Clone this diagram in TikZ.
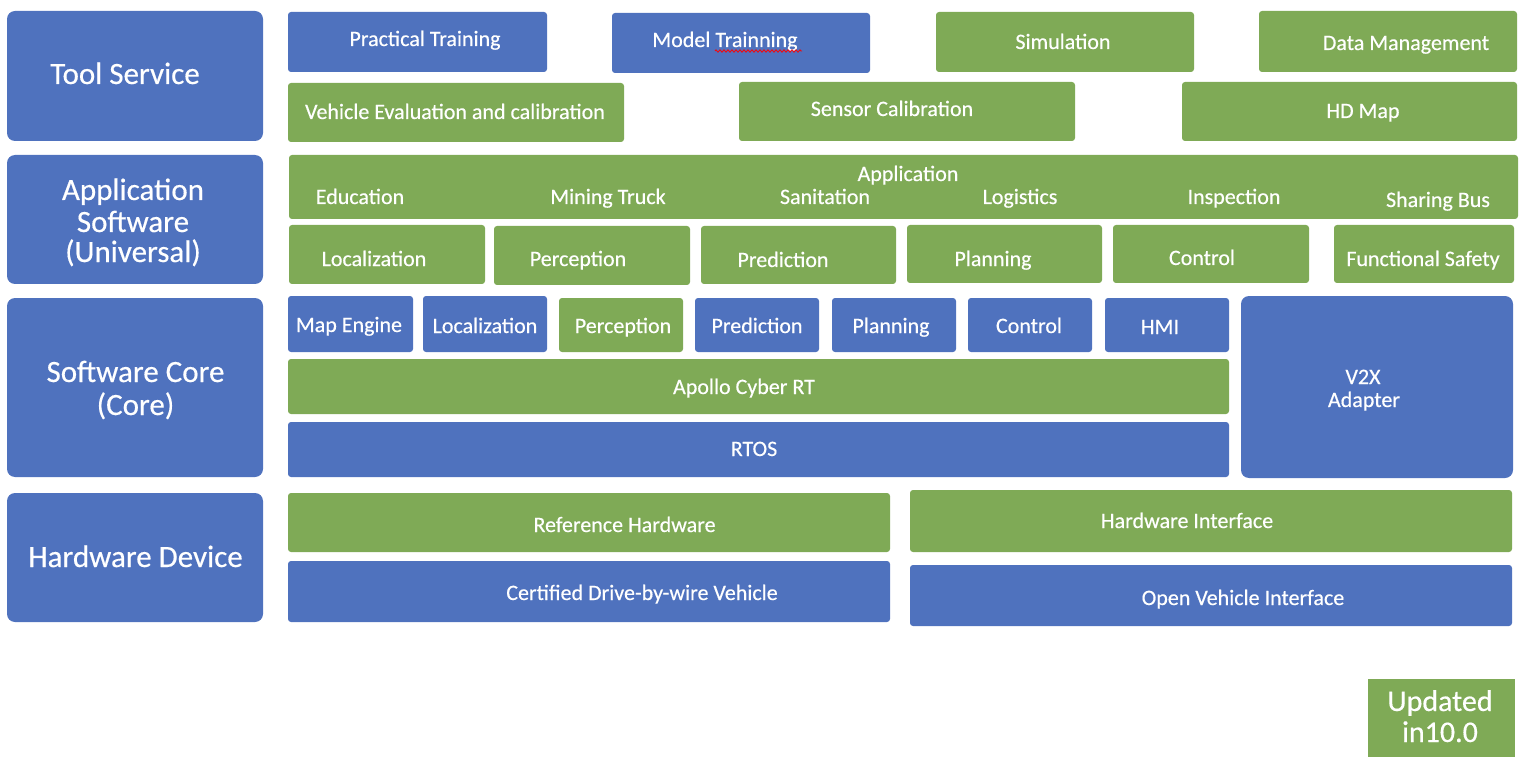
\documentclass[tikz,border=0pt]{standalone}
\usepackage{fontspec}
\setmainfont{Carlito}[FakeBold=0.4]
\usetikzlibrary{decorations.pathmorphing}
\definecolor{cblue}{RGB}{79,114,190}
\definecolor{cgreen}{RGB}{127,170,86}
\tikzset{
  blk/.style={draw=none, inner sep=0pt, outer sep=0pt, anchor=north west, rounded corners=3pt},
  bluebox/.style={blk, fill=cblue},
  greenbox/.style={blk, fill=cgreen},
  bigbox/.style={rounded corners=8pt},
  lbl/.style={text=white, inner sep=0pt, anchor=base, font=\fontsize{22}{26}\selectfont},
  biglbl/.style={lbl, font=\fontsize{31}{36}\selectfont},
  updlbl/.style={lbl, font=\fontsize{30}{34}\selectfont},
  squiggle/.style={draw=red, line width=0.8pt, decorate, decoration={zigzag, segment length=4pt, amplitude=1.2pt}},
}
\newcommand\bx[6]{\node[#2, minimum width={(#5-#3)*1pt}, minimum height={(#6-#4)*1pt}] (#1) at (#3,#4) {};}
\begin{document}
\begin{tikzpicture}[x=1pt,y=-1pt]
\useasboundingbox (0,0) rectangle (1524,762);
% ---------- Tool Service row
\bx{ts}{bluebox,bigbox}{7}{11}{263}{141}
\node[biglbl] (tst) at (125,84) {Tool Service};
\bx{pt}{bluebox}{288}{12}{547}{72}
\node[lbl] (ptt) at (425,46) {Practical Training};
\bx{mt}{bluebox}{612}{13}{870}{73}
\node[lbl] (mtt) at (725,47) {Model Trainning};
\coordinate (sqa) at (715,51);
\coordinate (sqb) at (802,51);
\draw[squiggle] (sqa) -- (sqb);
\bx{sim}{greenbox}{936}{12}{1194}{72}
\node[lbl] (simt) at (1063,49) {Simulation};
\bx{dm}{greenbox}{1259}{11}{1517}{72}
\node[lbl] (dmt) at (1406,50) {Data Management};
\bx{vec}{greenbox}{288}{83}{624}{142}
\node[lbl] (vect) at (455,119) {Vehicle Evaluation and calibration};
\bx{scal}{greenbox}{739}{82}{1075}{141}
\node[lbl] (scalt) at (892,116) {Sensor Calibration};
\bx{hdm}{greenbox}{1182}{82}{1517}{141}
\node[lbl] (hdmt) at (1363,118) {HD Map};
% ---------- Application Software row
\bx{as}{bluebox,bigbox}{7}{155}{263}{284}
\node[biglbl] (ast1) at (133,200) {Application};
\node[biglbl] (ast2) at (133,232) {Software};
\node[biglbl] (ast3) at (133,262) {(Universal)};
\bx{app}{greenbox}{289}{155}{1518}{219}
\node[lbl] (appt) at (908,181) {Application};
\node[lbl] (edu) at (360,204) {Education};
\node[lbl] (min) at (608,204) {Mining Truck};
\node[lbl] (san) at (825,204) {Sanitation};
\node[lbl] (log) at (1020,204) {Logistics};
\node[lbl] (ins) at (1234,204) {Inspection};
\node[lbl] (shb) at (1438,207) {Sharing Bus};
\bx{aloc}{greenbox}{289}{225}{485}{284}
\node[lbl] (alot) at (374,266) {Localization};
\bx{aper}{greenbox}{494}{226}{690}{285}
\node[lbl] (apet) at (578,266) {Perception};
\bx{apre}{greenbox}{701}{226}{896}{284}
\node[lbl] (aprt) at (783,267) {Prediction};
\bx{apla}{greenbox}{907}{225}{1102}{283}
\node[lbl] (aplt) at (993,266) {Planning};
\bx{acon}{greenbox}{1113}{225}{1309}{283}
\node[lbl] (acot) at (1202,265) {Control};
\bx{afs}{greenbox}{1334}{225}{1514}{283}
\node[lbl] (afst) at (1423,266) {Functional Safety};
% ---------- Software Core row
\bx{sco}{bluebox,bigbox}{7}{298}{263}{477}
\node[biglbl] (scot1) at (135.5,382) {Software Core};
\node[biglbl] (scot2) at (135.5,415) {(Core)};
\bx{me}{bluebox}{288}{296}{413}{352}
\node[lbl] (met) at (349,332) {Map Engine};
\bx{clo}{bluebox}{423}{296}{547}{352}
\node[lbl] (clot) at (485,333) {Localization};
\bx{cpe}{greenbox}{559}{298}{683}{352}
\node[lbl] (cpet) at (623,333) {Perception};
\bx{cpr}{bluebox}{695}{298}{819}{352}
\node[lbl] (cprt) at (757,333) {Prediction};
\bx{cpl}{bluebox}{832}{298}{956}{352}
\node[lbl] (cplt) at (891,333) {Planning};
\bx{cco}{bluebox}{968}{298}{1092}{352}
\node[lbl] (ccot) at (1029,333) {Control};
\bx{hmi}{bluebox}{1105}{298}{1229}{352}
\node[lbl] (hmit) at (1160,334) {HMI};
\bx{cyb}{greenbox}{288}{359}{1229}{414}
\node[lbl] (cybt) at (744,394) {Apollo Cyber RT};
\bx{rtos}{bluebox}{288}{422}{1229}{477}
\node[lbl] (rtost) at (754,456) {RTOS};
\bx{v2x}{bluebox,bigbox}{1241}{296}{1513}{478}
\node[lbl] (v2xt1) at (1363,384) {V2X};
\node[lbl] (v2xt2) at (1364,407) {Adapter};
% ---------- Hardware Device row
\bx{hwd}{bluebox,bigbox}{7}{493}{263}{622}
\node[biglbl] (hwdt) at (135.5,567) {Hardware Device};
\bx{rh}{greenbox}{288}{493}{890}{552}
\node[lbl] (rht) at (624.5,532) {Reference Hardware};
\bx{cdv}{bluebox}{288}{561}{890}{622}
\node[lbl] (cdvt) at (642,600) {Certified Drive-by-wire Vehicle};
\bx{hwi}{greenbox}{910}{490}{1512}{552}
\node[lbl] (hwit) at (1187,528) {Hardware Interface};
\bx{ovi}{bluebox}{910}{565}{1512}{626}
\node[lbl] (ovit) at (1243,605) {Open Vehicle Interface};
% ---------- legend
\bx{upd}{greenbox,sharp corners}{1368}{679}{1515}{757}
\node[updlbl] (updt1) at (1440,711) {Updated};
\node[updlbl] (updt2) at (1440,742) {in10.0};
\end{tikzpicture}
\end{document}
